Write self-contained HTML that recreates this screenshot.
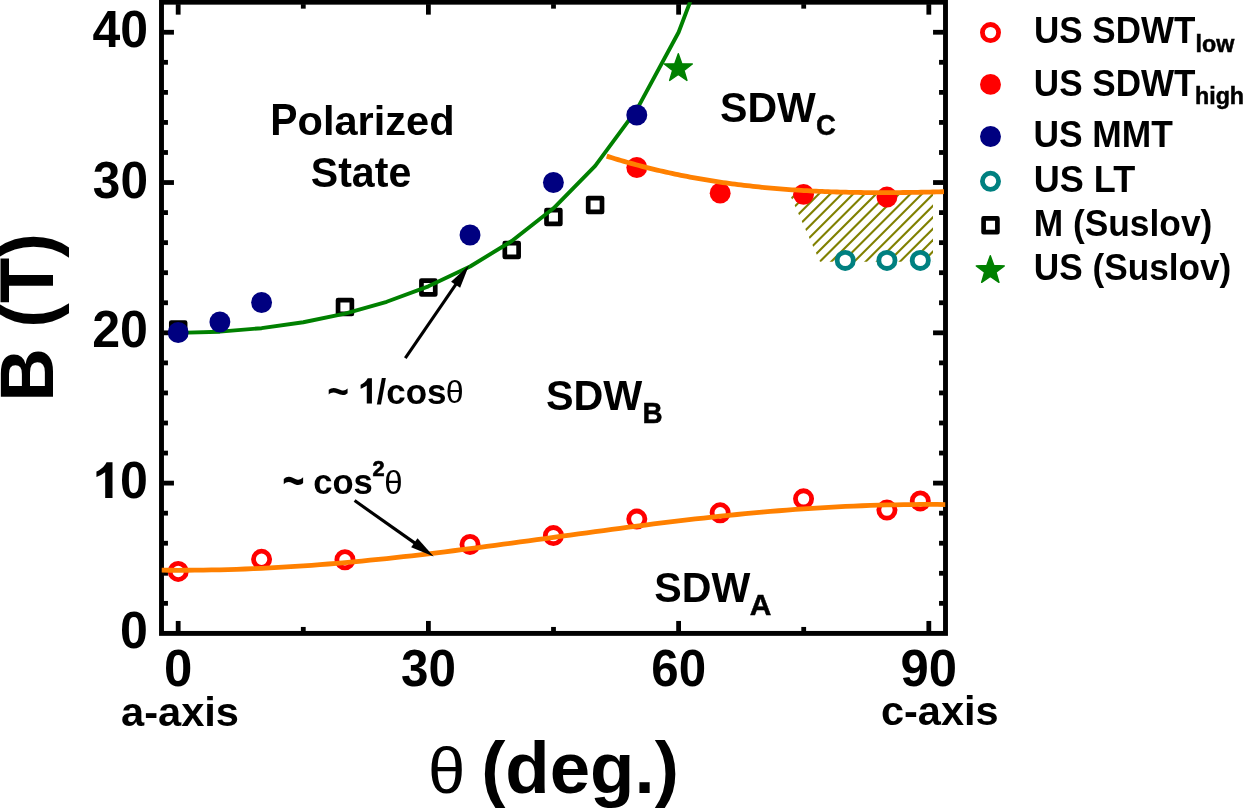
<!DOCTYPE html>
<html><head><meta charset="utf-8"><style>
html,body{margin:0;padding:0;background:#fff;width:1244px;height:808px;overflow:hidden}
svg{display:block;will-change:transform}
text{font-family:'Liberation Sans', sans-serif;fill:#000}
</style></head><body>
<svg width="1244" height="808" viewBox="0 0 1244 808">
<rect width="1244" height="808" fill="#fff"/>
<g stroke="#000" stroke-width="4.8"><rect x="161.5" y="2.2" width="784.0" height="631.1999999999999" fill="none" stroke="#000" stroke-width="4.9"/><line x1="178.18" y1="631.4499999999999" x2="178.18" y2="620.95"/><line x1="178.18" y1="4.15" x2="178.18" y2="14.65"/><line x1="303.29" y1="631.4499999999999" x2="303.29" y2="626.95"/><line x1="303.29" y1="4.15" x2="303.29" y2="8.65"/><line x1="428.39" y1="631.4499999999999" x2="428.39" y2="620.95"/><line x1="428.39" y1="4.15" x2="428.39" y2="14.65"/><line x1="553.50" y1="631.4499999999999" x2="553.50" y2="626.95"/><line x1="553.50" y1="4.15" x2="553.50" y2="8.65"/><line x1="678.61" y1="631.4499999999999" x2="678.61" y2="620.95"/><line x1="678.61" y1="4.15" x2="678.61" y2="14.65"/><line x1="803.71" y1="631.4499999999999" x2="803.71" y2="626.95"/><line x1="803.71" y1="4.15" x2="803.71" y2="8.65"/><line x1="928.82" y1="631.4499999999999" x2="928.82" y2="620.95"/><line x1="928.82" y1="4.15" x2="928.82" y2="14.65"/><line x1="163.45" y1="603.34" x2="167.95" y2="603.34"/><line x1="943.55" y1="603.34" x2="939.05" y2="603.34"/><line x1="163.45" y1="573.29" x2="167.95" y2="573.29"/><line x1="943.55" y1="573.29" x2="939.05" y2="573.29"/><line x1="163.45" y1="543.23" x2="167.95" y2="543.23"/><line x1="943.55" y1="543.23" x2="939.05" y2="543.23"/><line x1="163.45" y1="513.17" x2="167.95" y2="513.17"/><line x1="943.55" y1="513.17" x2="939.05" y2="513.17"/><line x1="163.45" y1="483.11" x2="173.95" y2="483.11"/><line x1="943.55" y1="483.11" x2="933.05" y2="483.11"/><line x1="163.45" y1="453.06" x2="167.95" y2="453.06"/><line x1="943.55" y1="453.06" x2="939.05" y2="453.06"/><line x1="163.45" y1="423.00" x2="167.95" y2="423.00"/><line x1="943.55" y1="423.00" x2="939.05" y2="423.00"/><line x1="163.45" y1="392.94" x2="167.95" y2="392.94"/><line x1="943.55" y1="392.94" x2="939.05" y2="392.94"/><line x1="163.45" y1="362.89" x2="167.95" y2="362.89"/><line x1="943.55" y1="362.89" x2="939.05" y2="362.89"/><line x1="163.45" y1="332.83" x2="173.95" y2="332.83"/><line x1="943.55" y1="332.83" x2="933.05" y2="332.83"/><line x1="163.45" y1="302.77" x2="167.95" y2="302.77"/><line x1="943.55" y1="302.77" x2="939.05" y2="302.77"/><line x1="163.45" y1="272.71" x2="167.95" y2="272.71"/><line x1="943.55" y1="272.71" x2="939.05" y2="272.71"/><line x1="163.45" y1="242.66" x2="167.95" y2="242.66"/><line x1="943.55" y1="242.66" x2="939.05" y2="242.66"/><line x1="163.45" y1="212.60" x2="167.95" y2="212.60"/><line x1="943.55" y1="212.60" x2="939.05" y2="212.60"/><line x1="163.45" y1="182.54" x2="173.95" y2="182.54"/><line x1="943.55" y1="182.54" x2="933.05" y2="182.54"/><line x1="163.45" y1="152.49" x2="167.95" y2="152.49"/><line x1="943.55" y1="152.49" x2="939.05" y2="152.49"/><line x1="163.45" y1="122.43" x2="167.95" y2="122.43"/><line x1="943.55" y1="122.43" x2="939.05" y2="122.43"/><line x1="163.45" y1="92.37" x2="167.95" y2="92.37"/><line x1="943.55" y1="92.37" x2="939.05" y2="92.37"/><line x1="163.45" y1="62.31" x2="167.95" y2="62.31"/><line x1="943.55" y1="62.31" x2="939.05" y2="62.31"/><line x1="163.45" y1="32.26" x2="173.95" y2="32.26"/><line x1="943.55" y1="32.26" x2="933.05" y2="32.26"/></g>
<clipPath id="hc"><polygon points="787.6,189.5 792.6,189.8 797.6,190.2 802.6,190.5 807.6,190.7 812.6,191.0 817.6,191.2 822.6,191.5 827.6,191.7 832.6,191.8 837.6,192.0 842.6,192.1 847.6,192.3 852.6,192.4 857.6,192.4 862.6,192.5 867.6,192.6 872.6,192.6 877.6,192.6 882.6,192.6 887.6,192.6 892.6,192.6 897.6,192.6 902.6,192.5 907.6,192.5 912.6,192.4 917.6,192.3 922.6,192.2 927.6,192.1 932.6,192.0 933.0,192.0 933.0,261.8 820.0,261.8"/></clipPath>
<g clip-path="url(#hc)" stroke="#808000" stroke-width="2.1"><line x1="770" y1="174.10" x2="960" y2="-15.90"/><line x1="770" y1="185.55" x2="960" y2="-4.45"/><line x1="770" y1="197.00" x2="960" y2="7.00"/><line x1="770" y1="208.45" x2="960" y2="18.45"/><line x1="770" y1="219.90" x2="960" y2="29.90"/><line x1="770" y1="231.35" x2="960" y2="41.35"/><line x1="770" y1="242.80" x2="960" y2="52.80"/><line x1="770" y1="254.25" x2="960" y2="64.25"/><line x1="770" y1="265.70" x2="960" y2="75.70"/><line x1="770" y1="277.15" x2="960" y2="87.15"/><line x1="770" y1="288.60" x2="960" y2="98.60"/><line x1="770" y1="300.05" x2="960" y2="110.05"/><line x1="770" y1="311.50" x2="960" y2="121.50"/><line x1="770" y1="322.95" x2="960" y2="132.95"/><line x1="770" y1="334.40" x2="960" y2="144.40"/><line x1="770" y1="345.85" x2="960" y2="155.85"/><line x1="770" y1="357.30" x2="960" y2="167.30"/><line x1="770" y1="368.75" x2="960" y2="178.75"/><line x1="770" y1="380.20" x2="960" y2="190.20"/><line x1="770" y1="391.65" x2="960" y2="201.65"/><line x1="770" y1="403.10" x2="960" y2="213.10"/><line x1="770" y1="414.55" x2="960" y2="224.55"/><line x1="770" y1="426.00" x2="960" y2="236.00"/><line x1="770" y1="437.45" x2="960" y2="247.45"/><line x1="770" y1="448.90" x2="960" y2="258.90"/><line x1="770" y1="460.35" x2="960" y2="270.35"/><line x1="770" y1="471.80" x2="960" y2="281.80"/></g>
<rect x="171.30" y="322.60" width="13.8" height="13.8" fill="none" stroke="#000" stroke-width="4.7" stroke-linejoin="round"/>
<rect x="338.06" y="300.10" width="13.8" height="13.8" fill="none" stroke="#000" stroke-width="4.7" stroke-linejoin="round"/>
<rect x="421.44" y="280.60" width="13.8" height="13.8" fill="none" stroke="#000" stroke-width="4.7" stroke-linejoin="round"/>
<rect x="504.82" y="243.10" width="13.8" height="13.8" fill="none" stroke="#000" stroke-width="4.7" stroke-linejoin="round"/>
<rect x="546.51" y="210.10" width="13.8" height="13.8" fill="none" stroke="#000" stroke-width="4.7" stroke-linejoin="round"/>
<rect x="588.20" y="198.10" width="13.8" height="13.8" fill="none" stroke="#000" stroke-width="4.7" stroke-linejoin="round"/>
<clipPath id="pc"><rect x="161.5" y="2.2" width="784.0" height="631.1999999999999"/></clipPath>
<polyline clip-path="url(#pc)" points="178.18,332.83 219.88,331.68 261.59,328.19 303.29,322.23 344.99,313.54 386.69,301.76 428.39,286.33 470.10,266.47 511.80,241.03 553.50,208.33 595.20,165.79 636.90,109.37 678.61,32.26 720.31,-77.81" fill="none" stroke="#008000" stroke-width="3.9" stroke-linejoin="round"/>
<circle cx="178.20" cy="332.50" r="10.45" fill="#000080"/>
<circle cx="219.89" cy="322.00" r="10.45" fill="#000080"/>
<circle cx="261.58" cy="302.50" r="10.45" fill="#000080"/>
<circle cx="470.03" cy="235.00" r="10.45" fill="#000080"/>
<circle cx="553.41" cy="182.50" r="10.45" fill="#000080"/>
<circle cx="636.79" cy="115.00" r="10.45" fill="#000080"/>
<circle cx="178.20" cy="571.45" r="8.1" fill="#fff" stroke="#ff0000" stroke-width="4.8"/>
<circle cx="261.58" cy="559.30" r="8.1" fill="#fff" stroke="#ff0000" stroke-width="4.8"/>
<circle cx="344.96" cy="559.75" r="8.1" fill="#fff" stroke="#ff0000" stroke-width="4.8"/>
<circle cx="470.03" cy="544.45" r="8.1" fill="#fff" stroke="#ff0000" stroke-width="4.8"/>
<circle cx="553.41" cy="535.60" r="8.1" fill="#fff" stroke="#ff0000" stroke-width="4.8"/>
<circle cx="636.79" cy="519.10" r="8.1" fill="#fff" stroke="#ff0000" stroke-width="4.8"/>
<circle cx="720.17" cy="512.80" r="8.1" fill="#fff" stroke="#ff0000" stroke-width="4.8"/>
<circle cx="803.55" cy="498.85" r="8.1" fill="#fff" stroke="#ff0000" stroke-width="4.8"/>
<circle cx="886.93" cy="510.10" r="8.1" fill="#fff" stroke="#ff0000" stroke-width="4.8"/>
<circle cx="920.28" cy="500.95" r="8.1" fill="#fff" stroke="#ff0000" stroke-width="4.8"/>
<circle cx="636.79" cy="167.50" r="10.45" fill="#ff0000"/>
<circle cx="720.17" cy="193.15" r="10.45" fill="#ff0000"/>
<circle cx="803.55" cy="194.35" r="10.45" fill="#ff0000"/>
<circle cx="886.93" cy="197.05" r="10.45" fill="#ff0000"/>
<circle cx="845.24" cy="260.40" r="8.1" fill="#fff" stroke="#008080" stroke-width="4.8"/>
<circle cx="886.93" cy="260.40" r="8.1" fill="#fff" stroke="#008080" stroke-width="4.8"/>
<circle cx="920.28" cy="260.40" r="8.1" fill="#fff" stroke="#008080" stroke-width="4.8"/>
<polyline clip-path="url(#pc)" points="161.50,570.20 169.84,570.26 178.18,570.28 186.52,570.26 194.86,570.20 203.20,570.10 211.54,569.96 219.88,569.78 228.22,569.56 236.56,569.30 244.90,569.01 253.24,568.67 261.59,568.30 269.93,567.88 278.27,567.43 286.61,566.95 294.95,566.43 303.29,565.87 311.63,565.28 319.97,564.65 328.31,563.99 336.65,563.30 344.99,562.58 353.33,561.83 361.67,561.04 370.01,560.23 378.35,559.39 386.69,558.52 395.03,557.63 403.37,556.71 411.71,555.77 420.05,554.81 428.39,553.82 436.73,552.82 445.07,551.80 453.41,550.75 461.76,549.70 470.10,548.62 478.44,547.54 486.78,546.44 495.12,545.33 503.46,544.21 511.80,543.08 520.14,541.95 528.48,540.81 536.82,539.66 545.16,538.52 553.50,537.37 561.84,536.22 570.18,535.07 578.52,533.93 586.86,532.79 595.20,531.65 603.54,530.52 611.88,529.41 620.22,528.30 628.56,527.20 636.90,526.11 645.24,525.04 653.59,523.98 661.93,522.94 670.27,521.92 678.61,520.91 686.95,519.93 695.29,518.96 703.63,518.02 711.97,517.10 720.31,516.21 728.65,515.34 736.99,514.50 745.33,513.69 753.67,512.91 762.01,512.15 770.35,511.43 778.69,510.74 787.03,510.08 795.37,509.46 803.71,508.86 812.05,508.31 820.39,507.79 828.73,507.30 837.07,506.85 845.41,506.44 853.76,506.07 862.10,505.73 870.44,505.43 878.78,505.17 887.12,504.95 895.46,504.78 903.80,504.64 912.14,504.54 920.48,504.47 928.82,504.45 937.16,504.47 945.50,504.54" fill="none" stroke="#ff8000" stroke-width="4.8"/>
<polyline clip-path="url(#pc)" points="606.70,156.14 609.00,156.86 612.00,157.80 615.00,158.72 618.00,159.62 621.00,160.51 624.00,161.39 627.00,162.25 630.00,163.09 633.00,163.92 636.00,164.74 639.00,165.54 642.00,166.32 645.00,167.10 648.00,167.85 651.00,168.60 654.00,169.33 657.00,170.04 660.00,170.74 663.00,171.43 666.00,172.11 669.00,172.77 672.00,173.42 675.00,174.05 678.00,174.68 681.00,175.28 684.00,175.88 687.00,176.46 690.00,177.04 693.00,177.59 696.00,178.14 699.00,178.68 702.00,179.20 705.00,179.71 708.00,180.21 711.00,180.69 714.00,181.17 717.00,181.63 720.00,182.08 723.00,182.52 726.00,182.95 729.00,183.37 732.00,183.77 735.00,184.17 738.00,184.56 741.00,184.93 744.00,185.30 747.00,185.65 750.00,185.99 753.00,186.33 756.00,186.65 759.00,186.96 762.00,187.27 765.00,187.56 768.00,187.84 771.00,188.12 774.00,188.38 777.00,188.64 780.00,188.88 783.00,189.12 786.00,189.35 789.00,189.57 792.00,189.78 795.00,189.98 798.00,190.18 801.00,190.36 804.00,190.54 807.00,190.71 810.00,190.87 813.00,191.03 816.00,191.17 819.00,191.31 822.00,191.44 825.00,191.56 828.00,191.68 831.00,191.79 834.00,191.89 837.00,191.98 840.00,192.07 843.00,192.15 846.00,192.22 849.00,192.29 852.00,192.35 855.00,192.41 858.00,192.45 861.00,192.50 864.00,192.53 867.00,192.56 870.00,192.59 873.00,192.61 876.00,192.62 879.00,192.63 882.00,192.63 885.00,192.63 888.00,192.62 891.00,192.61 894.00,192.59 897.00,192.57 900.00,192.54 903.00,192.51 906.00,192.48 909.00,192.44 912.00,192.39 915.00,192.34 918.00,192.29 921.00,192.24 924.00,192.18 927.00,192.12 930.00,192.05 933.00,191.98 936.00,191.91 939.00,191.83 942.00,191.75 944.00,191.70" fill="none" stroke="#ff8000" stroke-width="4.8"/>
<polygon points="678.30,53.75 681.83,63.65 692.33,63.94 684.01,70.35 686.97,80.43 678.30,74.50 669.63,80.43 672.59,70.35 664.27,63.94 674.77,63.65" fill="#008000" stroke="#008000" stroke-width="1.4" stroke-linejoin="round"/>
<line x1="405.30" y1="358.20" x2="456.74" y2="283.10" stroke="#000" stroke-width="3.1"/><polygon points="469.00,265.20 460.14,287.86 451.07,281.65" fill="#000"/>
<line x1="354.60" y1="500.60" x2="415.97" y2="543.89" stroke="#000" stroke-width="3.1"/><polygon points="433.70,556.40 411.16,547.23 417.50,538.24" fill="#000"/>
<g transform="translate(92.45,47.29) scale(0.9991,1.0282)"><text font-weight="bold" font-size="50">40</text></g>
<g transform="translate(92.86,197.59) scale(0.9914,1.0282)"><text font-weight="bold" font-size="50">30</text></g>
<g transform="translate(92.24,347.48) scale(1.0029,1.0310)"><text font-weight="bold" font-size="50">20</text></g>
<g transform="translate(120.10,498.08) scale(1.0021,1.0338)"><text font-weight="bold" font-size="50">0</text></g>
<g transform="translate(119.90,648.38) scale(1.0021,1.0324)"><text font-weight="bold" font-size="50">0</text></g>
<g transform="translate(164.06,685.79) scale(1.0189,1.0282)"><text font-weight="bold" font-size="50">0</text></g>
<g transform="translate(401.07,685.59) scale(0.9876,1.0254)"><text font-weight="bold" font-size="50">30</text></g>
<g transform="translate(651.28,685.59) scale(0.9855,1.0254)"><text font-weight="bold" font-size="50">60</text></g>
<g transform="translate(900.52,685.88) scale(1.0164,1.0338)"><text font-weight="bold" font-size="50">90</text></g>
<g transform="translate(121.00,726.04) scale(1.0407,1.0325)"><text font-weight="bold" font-size="40">a-axis</text></g>
<g transform="translate(880.94,724.54) scale(1.0385,1.0359)"><text font-weight="bold" font-size="40">c-axis</text></g>
<g transform="translate(270.15,134.50) scale(0.9485,1.0203)"><text font-weight="bold" font-size="43">P</text></g>
<g transform="translate(297.51,134.52) scale(0.9665,0.9575)"><text font-weight="bold" font-size="43">olarized</text></g>
<g transform="translate(310.81,187.30) scale(0.9551,0.9934)"><text font-weight="bold" font-size="43">State</text></g>
<g transform="translate(720.01,122.30) scale(0.9556,1.0033)"><text font-weight="bold" font-size="43">SDW</text></g>
<g transform="translate(816.09,135.12) scale(0.9150,0.9609)"><text font-weight="bold" font-size="30" stroke="#000" stroke-width="0.5">C</text></g>
<g transform="translate(545.90,410.21) scale(0.9616,0.9836)"><text font-weight="bold" font-size="43">SDW</text></g>
<g transform="translate(642.48,423.36) scale(0.9280,0.9571)"><text font-weight="bold" font-size="30" stroke="#000" stroke-width="0.5">B</text></g>
<g transform="translate(654.20,601.60) scale(0.9576,0.9934)"><text font-weight="bold" font-size="43">SDW</text></g>
<g transform="translate(749.70,614.66) scale(0.9976,0.9714)"><text font-weight="bold" font-size="30" stroke="#000" stroke-width="0.5">A</text></g>
<g transform="translate(327.31,406.40) scale(1.0629,1.2909)"><text font-weight="bold" font-size="35">~</text></g>
<g transform="translate(376.55,403.76) scale(1.0000,0.9904)"><text font-weight="bold" font-size="35">/cos</text></g>
<g transform="translate(445.69,403.38) scale(0.9187,0.8961)"><text font-size="35" font-family="'Liberation Serif', serif">θ</text></g>
<g transform="translate(282.16,497.83) scale(1.0914,1.4545)"><text font-weight="bold" font-size="35">~</text></g>
<g transform="translate(313.16,493.74) scale(0.9905,1.0211)"><text font-weight="bold" font-size="35">cos</text></g>
<g transform="translate(372.43,476.16) scale(0.9447,0.9791)"><text font-weight="bold" font-size="23" stroke="#000" stroke-width="0.7">2</text></g>
<g transform="translate(384.35,493.77) scale(0.9438,0.9373)"><text font-size="35" font-family="'Liberation Serif', serif">θ</text></g>
<g transform="translate(427.96,793.23) scale(0.9182,0.8897)"><text font-size="73" font-family="'Liberation Serif', serif">θ</text></g>
<g transform="translate(481.17,792.64) scale(0.9950,0.9950)"><text font-size="73" font-weight="bold">(deg.)</text></g>
<path transform="translate(96.45,462.16)" d="M10.1,0 L16.05,0 L16.05,35.74 L8.75,35.74 L8.75,10.14 C6.2,12.0 3.0,13.8 0,14.84 L0,9.24 C3.5,7.8 7.2,5.4 10.1,0 Z" fill="#000"/>
<path transform="translate(360.6,378.3) scale(0.7051)" d="M10.1,0 L16.05,0 L16.05,35.74 L8.75,35.74 L8.75,10.14 C6.2,12.0 3.0,13.8 0,14.84 L0,9.24 C3.5,7.8 7.2,5.4 10.1,0 Z" fill="#000"/>
<g transform="translate(52.9,401.77) rotate(-90) scale(1.0146,1.0328)"><text font-weight="bold" font-size="73">B (T)</text></g>
<circle cx="990.50" cy="32.60" r="8.1" fill="#fff" stroke="#ff0000" stroke-width="4.8"/>
<circle cx="990.5" cy="84.4" r="10.45" fill="#ff0000"/>
<circle cx="990.5" cy="136.5" r="10.45" fill="#000080"/>
<circle cx="990.50" cy="181.30" r="8.1" fill="#fff" stroke="#008080" stroke-width="4.8"/>
<rect x="983.60" y="218.40" width="13.8" height="13.8" fill="none" stroke="#000" stroke-width="4.7" stroke-linejoin="round"/>
<polygon points="990.30,255.65 993.83,265.55 1004.33,265.84 996.01,272.25 998.97,282.33 990.30,276.40 981.63,282.33 984.59,272.25 976.27,265.84 986.77,265.55" fill="#008000" stroke="#008000" stroke-width="1.4" stroke-linejoin="round"/>
<g transform="translate(1034.01,42.94) scale(0.9727,1.0257)"><text font-weight="bold" font-size="36">US SDWT</text></g>
<g transform="translate(1195.46,51.91) scale(0.9908,0.9825)"><text font-weight="bold" font-size="23.5" stroke="#000" stroke-width="0.5">low</text></g>
<g transform="translate(1033.81,95.54) scale(0.9746,1.0416)"><text font-weight="bold" font-size="36">US SDWT</text></g>
<g transform="translate(1033.39,147.04) scale(0.9831,1.0218)"><text font-weight="bold" font-size="36">US MMT</text></g>
<g transform="translate(1033.75,191.94) scale(1.0015,1.0376)"><text font-weight="bold" font-size="36">US LT</text></g>
<g transform="translate(1033.65,235.90) scale(0.9817,1.0300)"><text font-weight="bold" font-size="36">M (Suslov)</text></g>
<g transform="translate(1033.80,280.40) scale(0.9778,1.0300)"><text font-weight="bold" font-size="36">US (Suslov)</text></g>
<g transform="translate(1194.97,103.6) scale(0.9908,0.9825)"><text font-weight="bold" font-size="23.5" stroke="#000" stroke-width="0.5">high</text></g>
</svg>
</body></html>
